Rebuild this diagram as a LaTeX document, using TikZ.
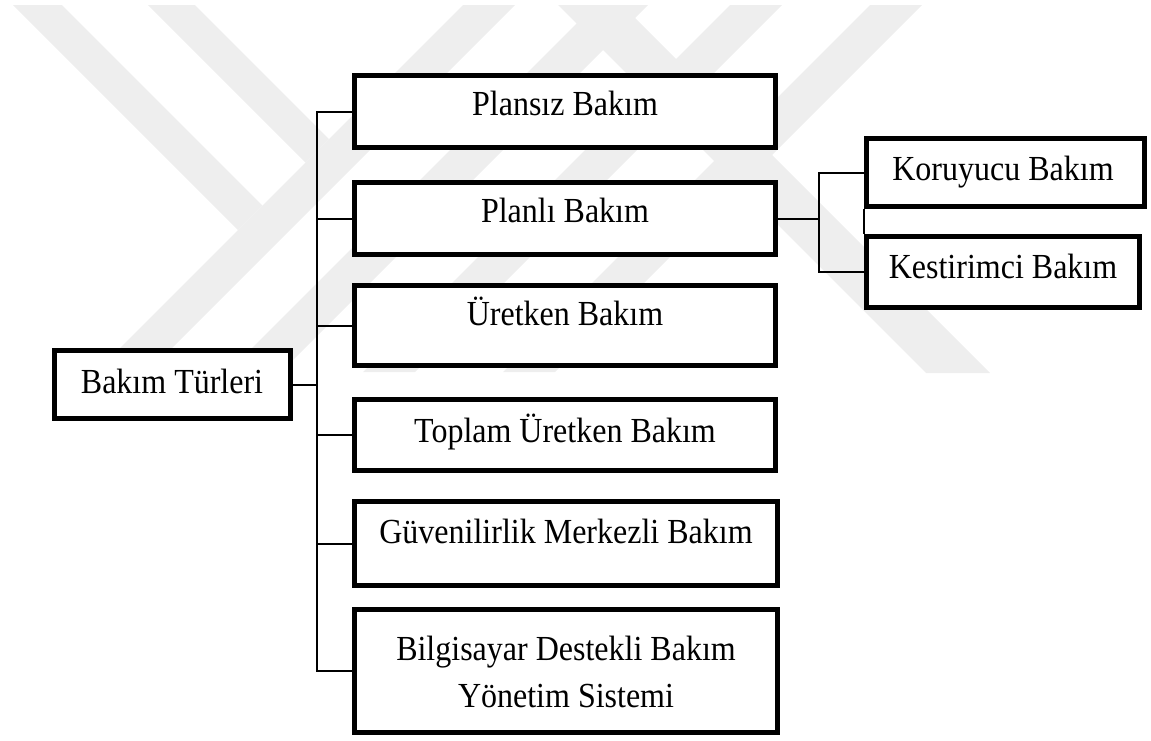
\documentclass[tikz,border=0pt]{standalone}
\usepackage{fontspec}
\usepackage{graphicx}
\setmainfont{Liberation Serif}
\definecolor{wm}{RGB}{238,238,238}
\newcommand{\vst}[1]{\scalebox{1}[1.1]{#1}}
\tikzset{
  box/.style={draw=black, line width=5pt, fill=white, inner sep=0pt},
  lbl/.style={anchor=base, inner sep=0pt, font=\fontsize{32}{38}\selectfont},
  conn/.style={line width=2pt},
  thinconn/.style={line width=1.5pt},
  wmark/.style={fill=wm, draw=none},
}
\begin{document}
\begin{tikzpicture}[x=1pt, y=-1pt]
\useasboundingbox (0,0) rectangle (1151,740);
% watermark
\fill[wmark] (13,5) -- (62,5) -- (262.5,205.5) -- (238,230) -- cycle;
\fill[wmark] (148,5) -- (195,5) -- (329,139) -- (305.5,162.5) -- cycle;
\fill[wmark] (463,5) -- (515,5) -- (148,372) -- (96,372) -- cycle;
\fill[wmark] (595,5) -- (648,5) -- (281,372) -- (228,372) -- cycle;
\fill[wmark] (558,5) -- (622,5) -- (990,373) -- (926,373) -- cycle;
\fill[wmark] (730,5) -- (782,5) -- (415,372) -- (363,372) -- cycle;
\fill[wmark] (870,5) -- (922,5) -- (555,372) -- (503,372) -- cycle;

% boxes
\node[box, minimum width=236, minimum height=68] (root) at (172.5,384.5) {};
\node[box, minimum width=421, minimum height=72] (plansiz) at (565,111.5) {};
\node[box, minimum width=421, minimum height=72] (planli) at (565,218.5) {};
\node[box, minimum width=421, minimum height=80] (uretken) at (565,325.5) {};
\node[box, minimum width=421, minimum height=71] (toplam) at (565,435) {};
\node[box, minimum width=423, minimum height=84] (guven) at (566,543.5) {};
\node[box, minimum width=423, minimum height=123] (bilgi) at (566,671) {};
\node[box, minimum width=278, minimum height=68] (koru) at (1005.5,172.5) {};
\node[box, minimum width=273, minimum height=71] (kest) at (1003,272) {};

% labels
\node[lbl] (root-t) at (172,393) {\vst{Bakım Türleri}};
\node[lbl] (plansiz-t) at (565,115) {\vst{Plansız Bakım}};
\node[lbl] (planli-t) at (565,222) {\vst{Planlı Bakım}};
\node[lbl] (uretken-t) at (565,325) {\vst{Üretken Bakım}};
\node[lbl] (toplam-t) at (565,442) {\vst{Toplam Üretken Bakım}};
\node[lbl] (guven-t) at (566,543) {\vst{Güvenilirlik Merkezli Bakım}};
\node[lbl] (bilgi-t1) at (566,660) {\vst{Bilgisayar Destekli Bakım}};
\node[lbl] (bilgi-t2) at (566,707) {\vst{Yönetim Sistemi}};
\node[lbl] (koru-t) at (1003,180) {\vst{Koruyucu Bakım}};
\node[lbl] (kest-t) at (1003,278) {\vst{Kestirimci Bakım}};

% connectors
\coordinate (tx) at (317,384.5);
\coordinate (sx) at (819,218.5);
\draw[conn] (root.east) -- (tx);
\draw[conn] (plansiz.west) -| (tx) |- (bilgi.west);
\foreach \n in {planli,uretken,toplam,guven}{
  \draw[conn] (\n.west) -- (\n.west -| tx);
}
\draw[conn] (planli.east) -- (sx);
\draw[conn] (koru.west) -| (sx) |- (kest.west);
\draw[thinconn] (koru.south west) -- (kest.north west);
\end{tikzpicture}
\end{document}
